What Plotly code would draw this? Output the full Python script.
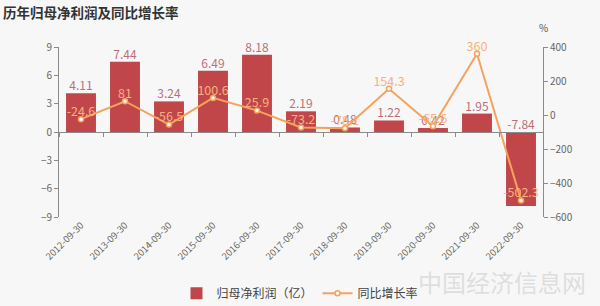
import plotly.graph_objects as go

categories = ["2012-09-30", "2013-09-30", "2014-09-30", "2015-09-30", "2016-09-30",
              "2017-09-30", "2018-09-30", "2019-09-30", "2020-09-30", "2021-09-30", "2022-09-30"]
profit = [4.11, 7.44, 3.24, 6.49, 8.18, 2.19, 0.48, 1.22, 0.42, 1.95, -7.84]
growth = [-24.6, 81, -56.5, 100.6, 25.9, -73.2, -78.1, 154.3, -65.6, 360, -502.3]
left_ticks = [9, 6, 3, 0, -3, -6, -9]
right_ticks = [400, 200, 0, -200, -400, -600]

FONT = "Noto Sans CJK SC"
BAR_C = "#c0464a"
LINE_C = "#f5a25d"
BAR_LABEL_C = "#b9707a"
LINE_LABEL_C = "#f6b27e"
AXIS_C = "#8a8a8a"
TICK_C = "#666666"

fig = go.Figure()

fig.add_trace(go.Bar(
    x=categories, y=profit, name="归母净利润（亿）",
    marker=dict(color=BAR_C, line=dict(width=0)), width=0.68,
    xaxis="x", yaxis="y",
))
fig.add_trace(go.Scatter(
    x=categories, y=[max(v, 0) for v in profit],
    text=[f"{v:.2f}" for v in profit], mode="text",
    textposition="top center", textfont=dict(color=BAR_LABEL_C, size=12, family=FONT),
    showlegend=False, hoverinfo="skip", xaxis="x", yaxis="y", cliponaxis=False,
))
fig.add_trace(go.Scatter(
    x=categories, y=growth, name="同比增长率", mode="lines+markers",
    line=dict(color=LINE_C, width=2),
    marker=dict(symbol="circle", size=5, color="white", line=dict(color=LINE_C, width=1.5)),
    xaxis="x2", yaxis="y2", cliponaxis=False,
))
fig.add_trace(go.Scatter(
    x=categories, y=growth, text=[f"{v:g}" for v in growth], mode="text",
    textposition="top center", textfont=dict(color=LINE_LABEL_C, size=12.5, family=FONT),
    showlegend=False, hoverinfo="skip", xaxis="x2", yaxis="y2", cliponaxis=False,
))

n = len(categories)
fig.update_layout(
    width=600, height=306,
    margin=dict(l=59, r=57, t=47, b=89),
    paper_bgcolor="#f7f7f7", plot_bgcolor="#f7f7f7",
    font=dict(family=FONT, color=TICK_C, size=10),
    bargap=0.32,
    title=dict(text="<b>历年归母净利润及同比增长率</b>", xref="container", yref="container",
               x=0.005, y=0.955, xanchor="left", yanchor="middle",
               font=dict(size=13.5, color="#333333", family=FONT)),
    xaxis=dict(type="category", categoryorder="array", categoryarray=categories,
               range=[-0.5, n - 0.5], showline=False, ticks="", showgrid=False,
               zeroline=False, tickangle=-45, tickfont=dict(size=9.5, color=TICK_C)),
    xaxis2=dict(type="category", categoryorder="array", categoryarray=categories,
                range=[-0.5, n - 0.5], overlaying="x", anchor="free", position=0.5,
                showline=True, linecolor=AXIS_C, linewidth=1, ticks="outside",
                tickson="boundaries", ticklen=4, tickcolor=AXIS_C,
                showticklabels=False, showgrid=False, zeroline=False),
    yaxis=dict(range=[-9, 9], tickvals=left_ticks, showline=True, linecolor=AXIS_C,
               ticks="outside", ticklen=4, tickcolor=AXIS_C, showgrid=False,
               zeroline=False, tickfont=dict(size=10, color=TICK_C)),
    yaxis2=dict(range=[-600, 400], tickvals=right_ticks, overlaying="y", side="right",
                anchor="free", position=1, showline=True, linecolor=AXIS_C,
                ticks="outside", ticklen=4, tickcolor=AXIS_C, showgrid=False,
                zeroline=False, tickfont=dict(size=10, color=TICK_C)),
    legend=dict(orientation="h", xref="container", yref="container",
                x=0.5, y=0.042, xanchor="center", yanchor="middle",
                font=dict(size=12, color="#444444", family=FONT),
                bgcolor="rgba(0,0,0,0)", itemwidth=30),
    showlegend=True,
)

fig.add_annotation(text="%", xref="paper", yref="paper", x=1, y=1.06,
                   showarrow=False, xanchor="center", yanchor="bottom",
                   font=dict(size=10, color="#555555", family=FONT))
fig.add_annotation(text="中国经济信息网", xref="paper", yref="paper",
                   x=1.093, y=-0.382, xanchor="right", yanchor="middle", showarrow=False,
                   font=dict(size=24, color="rgba(215,215,215,0.8)", family=FONT))

fig.write_html("out.html")
